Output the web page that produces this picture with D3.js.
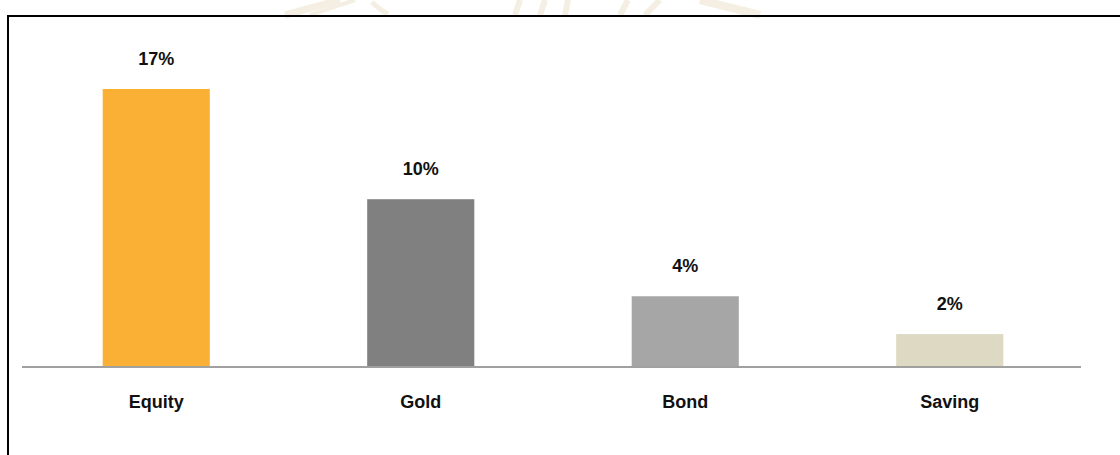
<!DOCTYPE html>
<html>
<head>
<meta charset="utf-8">
<script src="https://cdn.jsdelivr.net/npm/d3@7"></script>
<style>
  body { margin: 0; background: #fff; }
  svg { display: block; }
  text { font-family: "Liberation Sans", Arial, sans-serif; font-weight: bold; fill: #111; }
</style>
</head>
<body>
<div id="chart"></div>
<script>
// asset classes and their returns (%)
var categories = ["Equity", "Gold", "Bond", "Saving"];
var values = [16.9, 10.2, 4.3, 2.0];
var colors = ["#FAB034", "#808080", "#A6A6A6", "#DDD9C3"];

var width = 1120, height = 455;
var baseY = 367;

var svg = d3.select("#chart")
  .append("svg")
  .attr("width", width)
  .attr("height", height);

// faint watermark peeking above the frame
var wm = svg.append("g").attr("stroke", "#ece3cc").attr("fill", "none").attr("opacity", 0.55);
wm.append("path").attr("d", "M285,15 L340,0").attr("stroke-width", 7);
wm.append("path").attr("d", "M310,15 L355,0").attr("stroke-width", 4);
wm.append("path").attr("d", "M372,2 Q380,10 388,14").attr("stroke-width", 5);
wm.append("path").attr("d", "M515,15 L520,0 M540,15 L545,0 M565,15 L568,0").attr("stroke-width", 6);
wm.append("path").attr("d", "M620,15 L628,0 M645,15 L660,0").attr("stroke-width", 6);
wm.append("path").attr("d", "M700,0 L760,15").attr("stroke-width", 8);

// frame (runs off right and bottom edges)
svg.append("path")
  .attr("d", "M8," + (height + 5) + " L8,16 L" + (width + 5) + ",16")
  .attr("fill", "none")
  .attr("stroke", "#000")
  .attr("stroke-width", 2);

var x = d3.scaleBand()
  .domain(categories)
  .range([24, 1082])
  .paddingInner(0.595)
  .paddingOuter(0.2975);

var y = d3.scaleLinear()
  .domain([0, 20])
  .range([baseY, 38]);

var data = categories.map(function(c, i) { return {name: c, value: values[i], color: colors[i]}; });

svg.selectAll("rect.bar")
  .data(data)
  .enter()
  .append("rect")
    .attr("class", "bar")
    .attr("x", function(d) { return x(d.name); })
    .attr("y", function(d) { return y(d.value); })
    .attr("width", x.bandwidth())
    .attr("height", function(d) { return y(0) - y(d.value); })
    .attr("fill", function(d) { return d.color; });

// baseline
svg.append("line")
  .attr("x1", 22).attr("x2", 1081)
  .attr("y1", y(0)).attr("y2", y(0))
  .attr("stroke", "#A0A0A0")
  .attr("stroke-width", 2);

// value labels
svg.selectAll("text.val")
  .data(data)
  .enter()
  .append("text")
    .attr("class", "val")
    .attr("x", function(d) { return x(d.name) + x.bandwidth() / 2; })
    .attr("y", function(d) { return y(d.value) - 24; })
    .attr("text-anchor", "middle")
    .style("font-size", "18px")
    .text(function(d) { return Math.round(d.value) + "%"; });

// category labels
svg.selectAll("text.cat")
  .data(data)
  .enter()
  .append("text")
    .attr("class", "cat")
    .attr("x", function(d) { return x(d.name) + x.bandwidth() / 2; })
    .attr("y", 408)
    .attr("text-anchor", "middle")
    .style("font-size", "18px")
    .text(function(d) { return d.name; });
</script>
</body>
</html>
